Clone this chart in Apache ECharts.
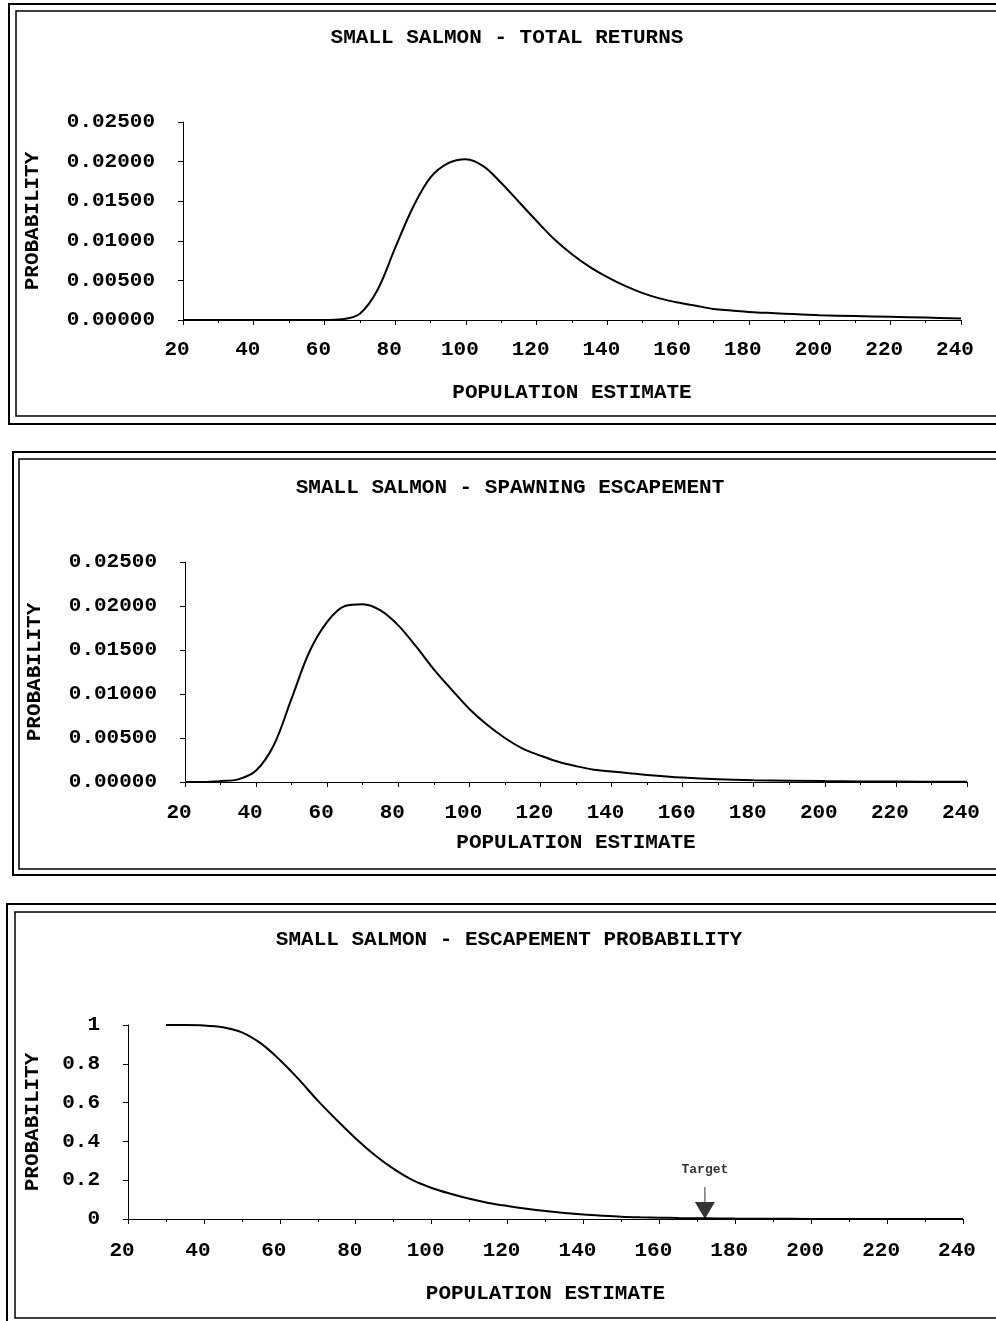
<!DOCTYPE html>
<head>
    <meta charset="UTF-8">
    <title>Small salmon</title>
</head>
<body style="margin:0;background:#fff">
<div id="main" style="width:996px;height:1321px"></div>
<script src="https://cdn.jsdelivr.net/npm/echarts@6/dist/echarts.min.js"></script>
<script type="text/javascript">
    // total returns
    var returnsX = [20, 30, 40, 50, 60, 65, 70, 75, 80, 85, 90, 95, 100, 105, 110, 115, 120, 125, 130, 135, 140, 145, 150, 155, 160, 165, 170, 175, 180, 185, 190, 195, 200, 210, 220, 230, 240];
    var returnsY = [0, 0, 0, 0, 0, 0.0001, 0.0008, 0.0038, 0.0091, 0.0142, 0.0180, 0.0198, 0.0203, 0.0194, 0.0173, 0.0149, 0.0125, 0.0102, 0.0083, 0.0067, 0.0054, 0.0043, 0.0034, 0.0027, 0.0022, 0.0018, 0.0014, 0.0012, 0.0010, 0.0009, 0.0008, 0.0007, 0.0006, 0.0005, 0.0004, 0.0003, 0.0002];

    // spawning escapement
    var spawnX = [20, 25, 30, 35, 40, 45, 50, 55, 60, 65, 70, 75, 80, 85, 90, 95, 100, 105, 110, 115, 120, 125, 130, 135, 140, 145, 150, 160, 170, 180, 200, 220, 240];
    var spawnY = [0, 0, 0.0001, 0.0003, 0.0013, 0.0042, 0.0095, 0.0148, 0.0182, 0.0200, 0.0202, 0.0195, 0.0178, 0.0154, 0.0128, 0.0105, 0.0083, 0.0065, 0.0050, 0.0038, 0.0030, 0.0023, 0.0018, 0.0014, 0.0012, 0.0010, 0.0008, 0.0005, 0.0003, 0.0002, 0.0001, 0.00005, 0.00003];

    // escapement probability
    var escX = [30, 35, 40, 45, 50, 55, 60, 65, 70, 75, 80, 85, 90, 95, 100, 105, 110, 115, 120, 125, 130, 135, 140, 145, 150, 155, 160, 165, 170, 175, 180, 190, 200, 220, 240];
    var escY = [1.0, 1.0, 0.998, 0.988, 0.962, 0.905, 0.82, 0.72, 0.61, 0.51, 0.415, 0.33, 0.258, 0.2, 0.16, 0.13, 0.104, 0.083, 0.067, 0.053, 0.041, 0.031, 0.023, 0.017, 0.012, 0.009, 0.007, 0.005, 0.004, 0.003, 0.002, 0.001, 0.0005, 0.0002, 0.0001];

    var targetX = 172;

    var titles = ['SMALL SALMON - TOTAL RETURNS', 'SMALL SALMON - SPAWNING ESCAPEMENT', 'SMALL SALMON - ESCAPEMENT PROBABILITY'];
    var xName = 'POPULATION ESTIMATE';
    var yName = 'PROBABILITY';

    var FONT = 'Liberation Mono';

    function pairs(xs, ys) {
        var out = [];
        for (var i = 0; i < xs.length; i++) out.push([xs[i], ys[i]]);
        return out;
    }

    function xAxisOf(gi, gap, margin) {
        return {
            gridIndex: gi,
            type: 'value',
            min: 20, max: 240, interval: 20,
            name: xName, nameLocation: 'middle', nameGap: gap,
            nameTextStyle: {color: '#000', fontFamily: FONT, fontWeight: 'bold', fontSize: 21},
            axisLine: {lineStyle: {color: '#000', width: 1}},
            axisTick: {show: true, length: 5, lineStyle: {color: '#000'}},
            minorTick: {show: true, splitNumber: 2, length: 3, lineStyle: {color: '#000'}},
            splitLine: {show: false},
            axisLabel: {color: '#000', fontFamily: FONT, fontWeight: 'bold', fontSize: 21, margin: margin, padding: [0, 12, 0, 0]}
        };
    }

    function yAxisOf(gi, max, interval, gap, fmt) {
        return {
            gridIndex: gi,
            type: 'value',
            min: 0, max: max, interval: interval,
            name: yName, nameLocation: 'middle', nameGap: gap, nameRotate: 90,
            nameTextStyle: {color: '#000', fontFamily: FONT, fontWeight: 'bold', fontSize: 21},
            axisLine: {show: true, lineStyle: {color: '#000', width: 1}},
            axisTick: {show: true, length: 5, lineStyle: {color: '#000'}},
            splitLine: {show: false},
            axisLabel: {color: '#000', fontFamily: FONT, fontWeight: 'bold', fontSize: 21, margin: 28, formatter: fmt}
        };
    }

    function lineSeries(gi, data) {
        return {
            type: 'line',
            xAxisIndex: gi, yAxisIndex: gi,
            data: data,
            smooth: 0.35,
            showSymbol: false,
            lineStyle: {color: '#000', width: 2},
            silent: true
        };
    }

    function frame(x, y, w, h, lw) {
        return {type: 'rect', shape: {x: x, y: y, width: w, height: h}, style: {fill: null, stroke: '#000', lineWidth: lw}, silent: true};
    }

    function titleText(text, x, y) {
        return {type: 'text', x: x, y: y, style: {text: text, fill: '#000', font: 'bold 21px "' + FONT + '"', textAlign: 'center', textVerticalAlign: 'middle'}};
    }

    var fmt5 = function (v) { return v.toFixed(5); };

    var option = {
        animation: false,
        backgroundColor: '#fff',
        grid: [
            {left: 183, top: 122, width: 778, height: 198},
            {left: 185, top: 562, width: 782, height: 220},
            {left: 128, top: 1025, width: 835, height: 194}
        ],
        xAxis: [xAxisOf(0, 62, 19), xAxisOf(1, 50, 20), xAxisOf(2, 64, 21)],
        yAxis: [
            yAxisOf(0, 0.025, 0.005, 140, fmt5),
            yAxisOf(1, 0.025, 0.005, 140, fmt5),
            yAxisOf(2, 1, 0.2, 85)
        ],
        series: [
            lineSeries(0, pairs(returnsX, returnsY)),
            lineSeries(1, pairs(spawnX, spawnY)),
            lineSeries(2, pairs(escX, escY)),
            {
                type: 'scatter',
                xAxisIndex: 2, yAxisIndex: 2,
                data: [[targetX, 0]],
                symbol: 'path://M9.5,0 L10.5,0 L10.5,15 L20,15 L10,32 L0,15 L9.5,15 Z',
                symbolSize: [20, 32],
                symbolOffset: [0, -16],
                itemStyle: {color: '#000'},
                label: {show: true, position: 'top', distance: 11, formatter: 'Target', color: '#000', fontFamily: FONT, fontWeight: 'bold', fontSize: 13},
                z: 5,
                silent: true
            }
        ],
        graphic: [
            frame(9, 4, 1010, 420, 2), frame(16, 11, 1000, 405, 1.5),
            frame(13, 452, 1010, 423, 2), frame(19, 459, 1000, 410, 1.5),
            frame(7, 904, 1010, 430, 2), frame(15, 912, 1000, 406, 1.5),
            titleText(titles[0], 507, 38),
            titleText(titles[1], 510, 488),
            titleText(titles[2], 509, 940)
        ]
    };

    var myChart = echarts.init(document.getElementById('main'));
    myChart.setOption(option);
</script>
</body>
